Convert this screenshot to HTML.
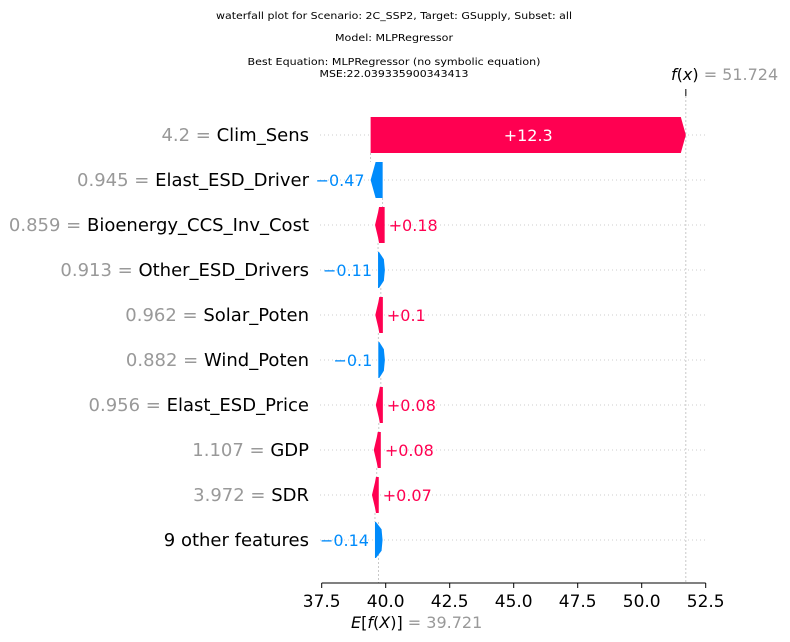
<!DOCTYPE html>
<html><head><meta charset="utf-8"><style>
body{margin:0;background:#fff}
svg{display:block;font-family:"DejaVu Sans","Liberation Sans",sans-serif}
</style></head><body>
<svg id="chart" width="790" height="642" viewBox="0 0 790 642" xmlns="http://www.w3.org/2000/svg">
<g font-size="9.5" fill="#000" text-anchor="middle">
<text x="394" y="19" textLength="356" lengthAdjust="spacingAndGlyphs">waterfall plot for Scenario: 2C_SSP2, Target: GSupply, Subset: all</text>
<text x="394" y="41" textLength="118" lengthAdjust="spacingAndGlyphs">Model: MLPRegressor</text>
<text x="394" y="65" textLength="293" lengthAdjust="spacingAndGlyphs">Best Equation: MLPRegressor (no symbolic equation)</text>
<text x="394" y="77" textLength="149" lengthAdjust="spacingAndGlyphs">MSE:22.039335900343413</text>
</g>
<g id="plot"></g>
</svg>
<script>
const features = ["Clim_Sens","Elast_ESD_Driver","Bioenergy_CCS_Inv_Cost","Other_ESD_Drivers","Solar_Poten","Wind_Poten","Elast_ESD_Price","GDP","SDR","9 other features"];
const featureValues = ["4.2","0.945","0.859","0.913","0.962","0.882","0.956","1.107","3.972",""];
const shapValues = [12.313,-0.47,0.18,-0.11,0.1,-0.1,0.08,0.08,0.07,-0.14];
const valueLabels = ["+12.3","\u22120.47","+0.18","\u22120.11","+0.1","\u22120.1","+0.08","+0.08","+0.07","\u22120.14"];
const baseValue = 39.721;
const fxValue = 51.724;
const xTicks = [37.5,40.0,42.5,45.0,47.5,50.0,52.5];

const NS="http://www.w3.org/2000/svg";
const g=document.getElementById('plot');
const X0=37.5,X1=52.5,PX0=321.7,PX1=705.7;
const xs=v=>PX0+(v-X0)/(X1-X0)*(PX1-PX0);
const ys=i=>135+i*45;
const PINK="#ff0051",BLUE="#008bfb";
function el(t,a,p){const e=document.createElementNS(NS,t);for(const k in a)e.setAttribute(k,a[k]);(p||g).appendChild(e);return e;}

const n=features.length;
const starts=new Array(n),ends=new Array(n);
let cur=baseValue;
for(let i=n-1;i>=0;i--){starts[i]=cur;cur+=shapValues[i];ends[i]=cur;}

for(let i=0;i<n;i++){
  const l=el('line',{x1:320,x2:706,y1:ys(i),y2:ys(i),stroke:'#ccc','stroke-width':1,'stroke-dasharray':'1,3'});
  
  
}
const ev=el('line',{x1:xs(baseValue),x2:xs(baseValue),y1:ys(n-1)-18,y2:583,stroke:'#bbb','stroke-width':0.8,'stroke-dasharray':'2,2'});


const fv=el('line',{x1:xs(fxValue),x2:xs(fxValue),y1:92,y2:583,stroke:'#bbb','stroke-width':0.8,'stroke-dasharray':'2,2'});


el('line',{x1:xs(fxValue),x2:xs(fxValue),y1:89,y2:96,stroke:'#000','stroke-width':1});
for(let i=0;i<n-1;i++){
  const c=el('line',{x1:xs(starts[i]),x2:xs(starts[i]),y1:ys(i)+18,y2:ys(i+1)-18,stroke:'#bbb','stroke-width':0.8,'stroke-dasharray':'2,2'});
  
  
}
for(let i=0;i<n;i++){
  const v=shapValues[i],a=xs(starts[i]),b=xs(ends[i]),cy=ys(i),h=18;
  const col=v>0?PINK:BLUE, s=v>0?1:-1;
  let pts;
  const w=Math.abs(b-a);
  const lo=Math.min(a,b), hi=Math.max(a,b);
  if(w>8){
    const hd=5;
    pts=[[a,cy-h],[b-s*hd,cy-h],[b,cy],[b-s*hd,cy+h],[a,cy+h]];
  } else if(v>0){
    pts=[[lo-3,cy],[lo,cy-h*0.7],[lo+1,cy-h],[hi+2,cy-h],[hi+2,cy+h],[lo+1,cy+h],[lo,cy+h*0.7]];
  } else if(w>4){
    pts=[[lo-4,cy],[lo,cy-h],[hi,cy-h],[hi,cy+h],[lo,cy+h]];
  } else {
    pts=[[lo,cy-h],[lo+1,cy-h],[hi+3,cy-h*0.6],[hi+4,cy],[hi+3,cy+h*0.6],[lo+1,cy+h],[lo,cy+h]];
  }
  const p=el('polygon',{points:pts.map(q=>q.join(',')).join(' '),fill:col});
  
  
  let t;
  if(w>40){
    t=el('text',{x:(a+b)/2,y:cy+6,'text-anchor':'middle','font-size':16,fill:'#fff'});
  } else if(v>0){
    t=el('text',{x:hi+6,y:cy+6,'text-anchor':'start','font-size':16,fill:col});
  } else {
    t=el('text',{x:lo-6,y:cy+6,'text-anchor':'end','font-size':16,fill:col});
  }
  t.textContent=valueLabels[i];
  
  
  const fl=el('text',{x:309,y:cy+6,'text-anchor':'end','font-size':18,fill:'#000'});
  
  
  if(featureValues[i]){
    const sp=document.createElementNS(NS,'tspan');sp.setAttribute('fill','#999');sp.textContent=featureValues[i]+' = ';fl.appendChild(sp);
  }
  const sp2=document.createElementNS(NS,'tspan');sp2.textContent=features[i];fl.appendChild(sp2);
}
const ax=el('line',{x1:PX0,x2:PX1,y1:583,y2:583,stroke:'#000','stroke-width':1});


xTicks.forEach(v=>{
  el('line',{x1:xs(v),x2:xs(v),y1:583,y2:588,stroke:'#000','stroke-width':1});
  const t=el('text',{x:xs(v),y:607,'text-anchor':'middle','font-size':17,fill:'#000'});
  t.textContent=v.toFixed(1);
  
  
});
const et=el('text',{x:351,y:628,'font-size':16,fill:'#000'});


et.innerHTML='<tspan font-style="italic">E</tspan>[<tspan font-style="italic">f</tspan>(<tspan font-style="italic">X</tspan>)] <tspan fill="#999" font-size="16"> = '+baseValue.toFixed(3)+'</tspan>';
const ft=el('text',{x:671,y:80,'font-size':16,fill:'#000'});


ft.innerHTML='<tspan font-style="italic">f</tspan>(<tspan font-style="italic">x</tspan>) <tspan fill="#999" font-size="16">= '+fxValue.toFixed(3)+'</tspan>';
</script>
</body></html>
